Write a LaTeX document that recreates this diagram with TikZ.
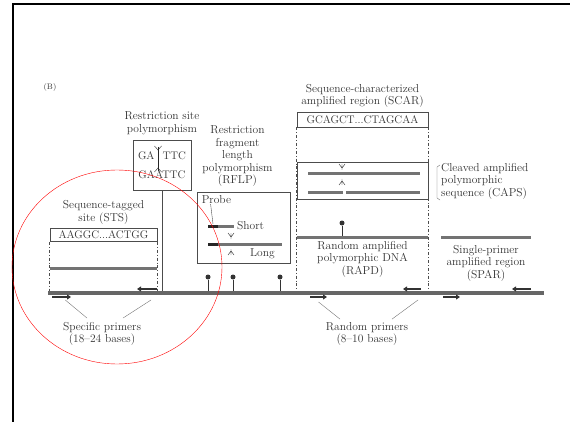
\documentclass[tikz,border=0pt]{standalone}
\usepackage{tikz}
\usetikzlibrary{arrows.meta,calc,positioning}

\begin{document}
\begin{tikzpicture}[
  x=1pt,y=-1pt,
  lbl/.style={align=center,inner sep=0pt,text=black!80,font=\fontsize{11.5}{12.5}\selectfont},
  seqbox/.style={draw=black!70,thick,inner sep=1pt,text=black!80,font=\fontsize{11}{13}\selectfont},
  frame/.style={draw=black!70,thick},
  band/.style={line width=3pt,draw=black!55},
  chrom/.style={line width=3.5pt,draw=black!60},
  dashv/.style={thick,dash dot,draw=black!70},
  primer/.style={line width=2pt,draw=black!80,-{Triangle[length=4pt,width=5pt]}},
  lead/.style={thin,draw=black!55},
  pin/.style={circle,fill=black!80,inner sep=0pt,minimum size=5pt},
  cut/.style={thin,draw=black!85}
]
  \useasboundingbox (0,0) rectangle (570,422);
  \draw[line width=2pt] (13,422) -- (13,4) -- (570,4);

  \node[font=\fontsize{8}{9}\selectfont,text=black!80] (panel) at (50,88) {(B)};

  % chromosome
  \coordinate (chrL) at (48,293);
  \coordinate (chrR) at (544,293);

  % STS
  \node[seqbox,minimum width=107pt,minimum height=13pt] (sts) at (103.5,235) {AAGGC...ACTGG};
  \node[lbl,above=4pt of sts] (stslbl) {Sequence-tagged\\site (STS)};
  \draw[dashv] (sts.south west) -- (sts.south west |- chrL);
  \draw[dashv] (sts.south east) -- (sts.south east |- chrL);
  \draw[band] (50,268) -- (157,268);

  % restriction site
  \node[frame,minimum width=58pt,minimum height=50pt,align=center,inner sep=0pt,
        text=black!80,font=\fontsize{11}{13}\selectfont] (rsp) at (162,165)
    {GA\phantom{A}TTC\\[6pt]GAATTC};
  \node[lbl,above=5pt of rsp] (rsplbl) {Restriction site\\polymorphism};
  \draw[cut] (158,147) -- (158,171);
  \draw[cut] (154.5,146) -- (158,150) -- (161.5,146);
  \draw[cut] (154.5,172) -- (158,168) -- (161.5,172);
  \draw[thin,black!70] (rsp.south) -- (rsp.south |- chrL);

  % RFLP
  \node[frame,minimum width=93pt,minimum height=71pt] (rflp) at (243.5,227.5) {};
  \node[lbl,above=5pt of rflp,xshift=-6pt] (rflplbl)
    {Restriction\\fragment\\length\\polymorphism\\(RFLP)};
  \node[lbl,anchor=north west] (probe) at ($(rflp.north west)+(5,4)$) {Probe};
  \draw[thin,black!70] ([xshift=9pt]probe.south west) -- (213,224);
  \draw[band] (208,226) -- (234,226);
  \draw[line width=3pt,black!85] (208,226) -- (218,226);
  \node[lbl,anchor=west] (short) at (237,226) {Short};
  \draw[band] (208,244) -- (282,244);
  \draw[line width=3pt,black!85] (208,244) -- (218,244);
  \node[lbl,anchor=west] (long) at (250,254) {Long};
  \draw[cut] (228,233) -- (231,237) -- (234,233) (231,233) -- (231,239);
  \draw[cut] (228,255) -- (231,251) -- (234,255) (231,249) -- (231,255);

  \foreach \x/\n in {208/a,233/b,280/c} {
    \node[pin] (pin\n) at (\x,277) {};
    \draw[thin,black!80] (pin\n) -- (pin\n |- chrL);
  }

  % SCAR / CAPS / RAPD
  \node[seqbox,minimum width=131pt,minimum height=15pt] (scar) at (362.5,119.5) {GCAGCT...CTAGCAA};
  \node[lbl,above=4pt of scar] (scarlbl) {Sequence-characterized\\amplified region (SCAR)};
  \draw[dashv] (scar.south west) -- (scar.south west |- chrL);
  \draw[dashv] (scar.south east) -- (scar.south east |- chrL);
  \node[frame,minimum width=131pt,minimum height=37pt] (caps) at (362.5,180.5) {};
  \draw[band] (308,174) -- (420,174);
  \draw[band] (308,193) -- (343,193);
  \draw[band] (346,193) -- (420,193);
  \draw[cut] (339,164) -- (342,168) -- (345,164) (342,164) -- (342,170);
  \draw[cut] (339,185) -- (342,181) -- (345,185) (342,179) -- (342,185);
  \draw[thin,black!60] (440,165) -- (437,167) -- (437,198) -- (440,200);
  \node[lbl,anchor=west,align=left] (capslbl) at (441,181)
    {Cleaved amplified\\polymorphic\\sequence (CAPS)};

  \draw[band] (297,237) -- (428,237);
  \node[pin] (pind) at (342,223) {};
  \draw[thin,black!80] (pind) -- (342,236);
  \node[lbl] (rapdlbl) at (362.5,259) {Random amplified\\polymorphic DNA\\(RAPD)};

  % SPAR
  \draw[band] (441,237) -- (531,237);
  \node[lbl] (sparlbl) at (486,263) {Single-primer\\amplified region\\(SPAR)};

  \draw[chrom] (chrL) -- (chrR);

  % primers
  \coordinate (sp1) at (52,297);  \coordinate (sp1e) at (71,297);
  \coordinate (sp2) at (157,289); \coordinate (sp2e) at (137,289);
  \draw[primer] (sp1) -- (sp1e);
  \draw[primer] (sp2) -- (sp2e);
  \node[lbl] (splbl) at (102,334) {Specific primers\\(18--24 bases)};
  \draw[lead] ($(sp1)!0.7!(sp1e)+(0,3)$) -- ($(splbl.north)+(-15,-4)$);
  \draw[lead] ($(sp2)+(-6,11)$) -- ($(splbl.north)+(21,-4)$);

  \coordinate (rp1) at (310,297); \coordinate (rp1e) at (327,297);
  \coordinate (rp2) at (421,289); \coordinate (rp2e) at (403,289);
  \coordinate (rp3) at (443,297); \coordinate (rp3e) at (460,297);
  \coordinate (rp4) at (531,289); \coordinate (rp4e) at (512,289);
  \foreach \p in {rp1,rp2,rp3,rp4}
    \draw[primer] (\p) -- (\p e);
  \node[lbl] (rplbl) at (367,334) {Random primers\\(8--10 bases)};
  \draw[lead] ($(rp1)!0.5!(rp1e)+(0,5)$) -- ($(rplbl.north)+(-27,-3)$);
  \draw[lead] ($(rp2)+(-3,11)$) -- ($(rplbl.north)+(25,-3)$);

  % highlight
  \draw[red,thin] (117,267) ellipse [x radius=105pt,y radius=97pt];
\end{tikzpicture}
\end{document}
